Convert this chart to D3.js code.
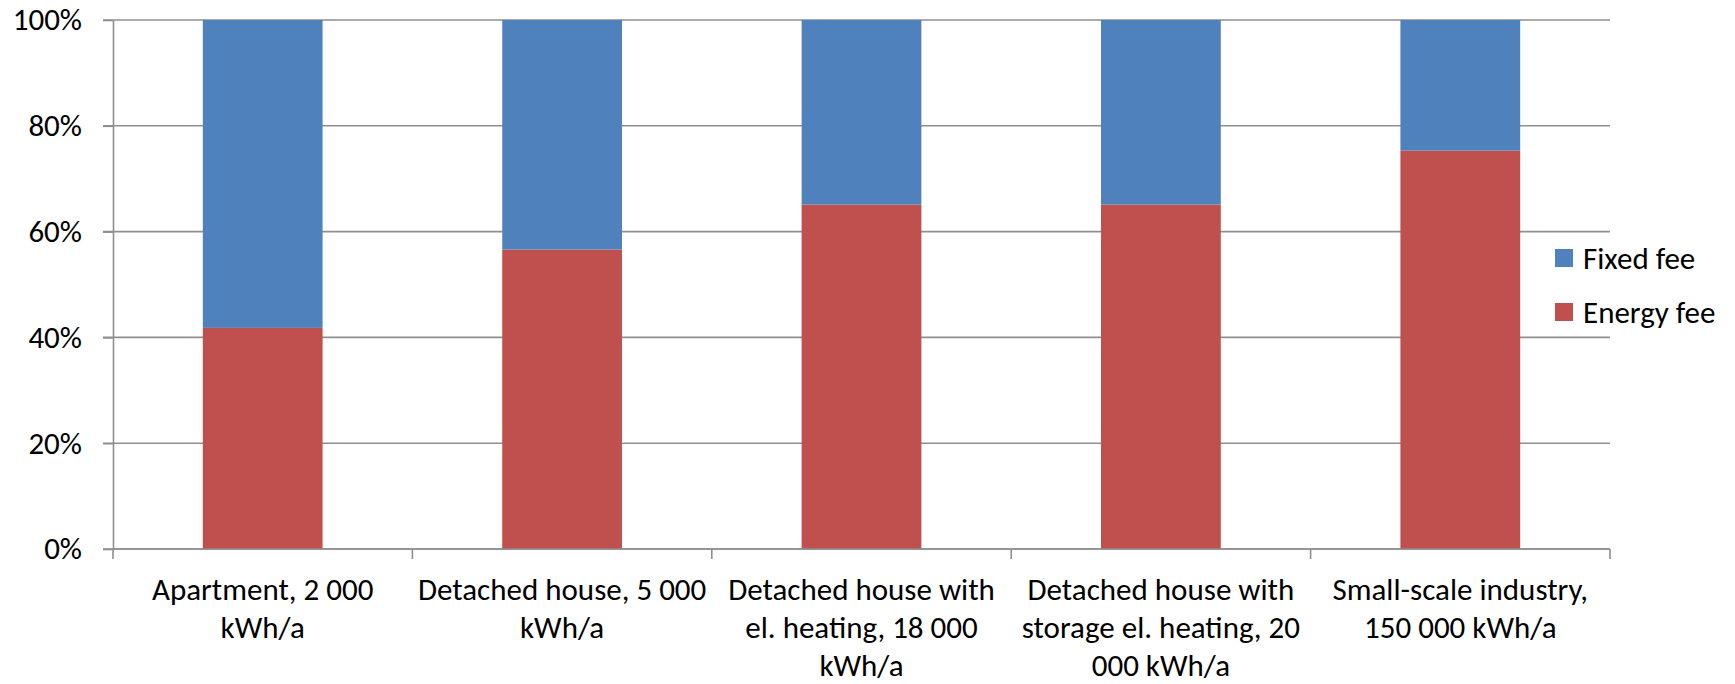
<!DOCTYPE html>
<html>
<head>
<meta charset="utf-8">
<script src="https://cdn.jsdelivr.net/npm/d3@7"></script>
<style>
  html, body { margin: 0; padding: 0; background: #fff; }
  svg { display: block; }
  text { font-family: Carlito, Lato, "Open Sans", sans-serif; fill: #000; }
</style>
</head>
<body>
<svg id="chart" width="1735" height="684"></svg>
<script>
// Customer categories (label lines split where the axis wraps them)
const categories = [
  "Apartment, 2 000\nkWh/a",
  "Detached house, 5 000\nkWh/a",
  "Detached house with\nel. heating, 18 000\nkWh/a",
  "Detached house with\nstorage el. heating, 20\n000 kWh/a",
  "Small-scale industry,\n150 000 kWh/a"
];
// Share of the annual bill, percent
const energyFee = [41.8, 56.6, 65.1, 65.1, 75.3];
const fixedFee  = [58.2, 43.4, 34.9, 34.9, 24.7];
const seriesNames = ["Energy fee", "Fixed fee"];
const yTicks = [0, 20, 40, 60, 80, 100];

const colors = { "Fixed fee": "#4F81BD", "Energy fee": "#C0504D" };

const svg = d3.select("#chart");
const plot = { left: 113, right: 1610, top: 20, bottom: 549 };
const gridColor = "#8f8f8f";
const fontSize = 31;

const rows = categories.map((c, i) => ({ cat: c, "Energy fee": energyFee[i], "Fixed fee": fixedFee[i] }));

const x = d3.scaleBand()
  .domain(categories)
  .range([plot.left, plot.right])
  .paddingInner(0.6)
  .paddingOuter(0.3);

const y = d3.scaleLinear().domain([0, 100]).range([plot.bottom, plot.top]);

// Horizontal gridlines
svg.append("g")
  .selectAll("line")
  .data(yTicks)
  .join("line")
  .attr("x1", plot.left - 10)
  .attr("x2", plot.right)
  .attr("y1", d => y(d))
  .attr("y2", d => y(d))
  .attr("stroke", gridColor)
  .attr("stroke-width", 1.6);

// Y axis
const yAxis = svg.append("g")
  .attr("transform", `translate(${plot.left},0)`)
  .call(d3.axisLeft(y).tickValues(yTicks).tickFormat(d => d + "%").tickSize(10).tickSizeOuter(0).tickPadding(21));
yAxis.select(".domain").attr("stroke", gridColor).attr("stroke-width", 1.6);
yAxis.selectAll(".tick line").attr("stroke", gridColor).attr("stroke-width", 1.6);
yAxis.selectAll(".tick text").attr("font-size", fontSize).attr("font-family", "Carlito, Lato, sans-serif").attr("fill", "#000");

// Stacked bars
const stacked = d3.stack().keys(seriesNames)(rows);
svg.append("g")
  .selectAll("g")
  .data(stacked)
  .join("g")
  .attr("fill", s => colors[s.key])
  .selectAll("rect")
  .data(s => s)
  .join("rect")
  .attr("x", d => x(d.data.cat))
  .attr("width", x.bandwidth())
  .attr("y", d => y(d[1]))
  .attr("height", d => y(d[0]) - y(d[1]));

// X axis line, ticks at category boundaries
const bounds = d3.range(categories.length + 1).map(i => plot.left + i * x.step());
svg.append("line")
  .attr("x1", plot.left).attr("x2", plot.right)
  .attr("y1", plot.bottom).attr("y2", plot.bottom)
  .attr("stroke", gridColor).attr("stroke-width", 1.6);
svg.append("g")
  .selectAll("line")
  .data(bounds)
  .join("line")
  .attr("x1", d => d).attr("x2", d => d)
  .attr("y1", plot.bottom).attr("y2", plot.bottom + 10)
  .attr("stroke", gridColor).attr("stroke-width", 1.6);

// Category labels
const labels = svg.append("g")
  .selectAll("text")
  .data(categories)
  .join("text")
  .attr("text-anchor", "middle")
  .attr("font-size", fontSize)
  .attr("x", d => x(d) + x.bandwidth() / 2)
  .attr("y", 600);
labels.selectAll("tspan")
  .data(d => d.split("\n").map(line => ({ line, cx: x(d) + x.bandwidth() / 2 })))
  .join("tspan")
  .attr("x", t => t.cx)
  .attr("dy", (t, i) => i === 0 ? 0 : 38)
  .text(t => t.line);

// Legend
const legendItems = ["Fixed fee", "Energy fee"];
const legend = svg.append("g")
  .selectAll("g")
  .data(legendItems)
  .join("g")
  .attr("transform", (d, i) => `translate(1555,${249 + i * 54})`);
legend.append("rect")
  .attr("width", 18).attr("height", 18)
  .attr("fill", d => colors[d]);
legend.append("text")
  .attr("x", 28).attr("y", 9)
  .attr("dy", "0.35em")
  .attr("font-size", fontSize)
  .text(d => d);
</script>
</body>
</html>
